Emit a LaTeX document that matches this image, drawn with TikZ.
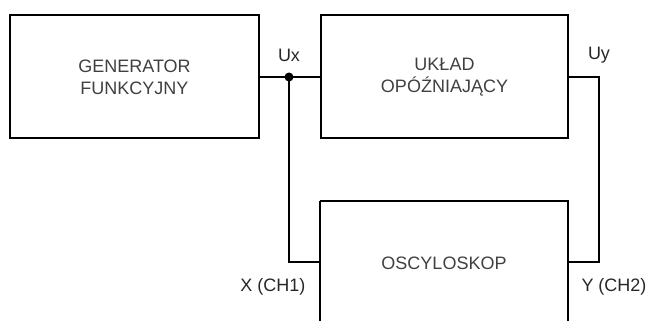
\documentclass[tikz,border=0pt]{standalone}
\usepackage{fontspec}
\setmainfont{Liberation Sans}
\begin{document}
\begin{tikzpicture}[x=1pt,y=-1pt,
  blk/.style={draw=black,line width=2pt},
  wire/.style={line width=2pt},
  lbl/.style={text=black!85,font=\fontsize{18}{22}\selectfont},
  btxt/.style={text=black!75,font=\fontsize{18}{22}\selectfont,align=center}]
\useasboundingbox (0,0) rectangle (649,321);
\draw[blk] (10,15) rectangle (259,138);
\node[btxt] (gen) at (134.5,77) {GENERATOR\\FUNKCYJNY};
\draw[blk] (321,15) rectangle (568,138);
\node[btxt] (ukl) at (444.5,77) {UKŁAD\\OPÓŹNIAJĄCY};
\draw[blk] (320,201) -- (320,330) (320,201) -- (568,201) -- (568,330);
\node[btxt] (osc) at (444,263) {OSCYLOSKOP};
\coordinate (gr) at (259,77);
\coordinate (ul) at (321,77);
\coordinate (ur) at (568,77);
\coordinate (j) at (289,77);
\coordinate (ol) at (320,262);
\coordinate (or) at (568,262);
\draw[wire] (gr) -- (ul);
\draw[wire] (j) |- (ol);
\draw[wire] (ur) -- (599,77) |- (or);
\fill (j) circle (4.5);
\node[lbl] (ux) at (289,55) {Ux};
\node[lbl] (uy) at (599,55) {Uy};
\node[lbl] (x) at (273,287) {X (CH1)};
\node[lbl] (y) at (614,287) {Y (CH2)};
\end{tikzpicture}
\end{document}
